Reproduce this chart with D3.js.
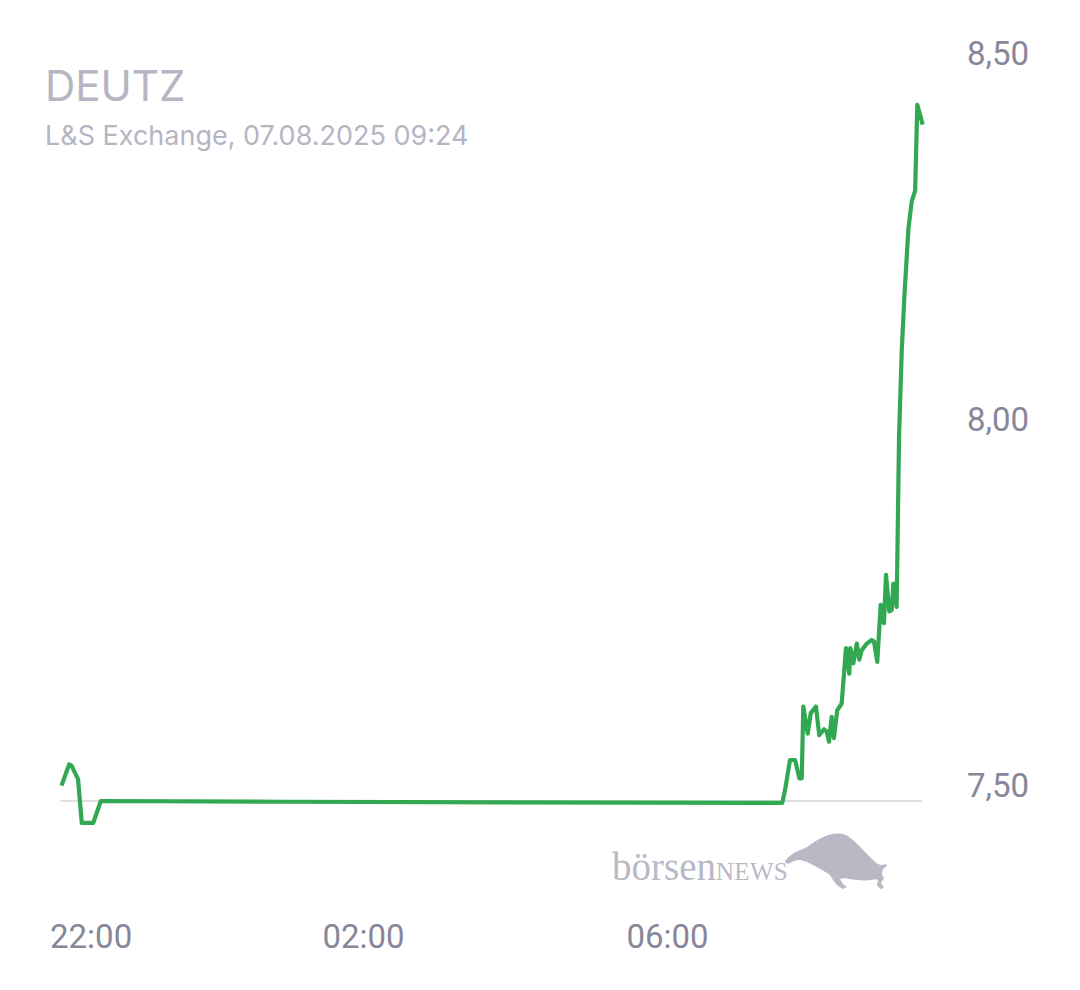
<!DOCTYPE html>
<html>
<head>
<meta charset="utf-8">
<script src="https://cdn.jsdelivr.net/npm/d3@7/dist/d3.min.js"></script>
<style>
  html, body { margin: 0; padding: 0; background: #ffffff; }
  svg { display: block; }
</style>
</head>
<body>
<svg id="chart" width="1080" height="990"></svg>
<script>
// ---------- data ----------
const title = "DEUTZ";
const subtitle = "L&S Exchange, 07.08.2025 09:24";

// time stamps (06.08.2025 evening, then 07.08.2025 morning)
const times = [
  "2025-08-06T22:02:00","2025-08-06T22:08:00","2025-08-06T22:10:00","2025-08-06T22:15:00",
  "2025-08-06T22:18:00","2025-08-06T22:27:00","2025-08-06T22:33:00","2025-08-07T01:00:00",
  "2025-08-07T04:00:00","2025-08-07T07:31:00","2025-08-07T07:33:12","2025-08-07T07:37:06",
  "2025-08-07T07:41:06","2025-08-07T07:44:30","2025-08-07T07:46:24","2025-08-07T07:47:36",
  "2025-08-07T07:51:06","2025-08-07T07:53:30","2025-08-07T07:57:36","2025-08-07T08:00:12",
  "2025-08-07T08:04:00","2025-08-07T08:06:06","2025-08-07T08:07:54","2025-08-07T08:10:00",
  "2025-08-07T08:11:48","2025-08-07T08:14:24","2025-08-07T08:17:54","2025-08-07T08:21:18",
  "2025-08-07T08:23:54","2025-08-07T08:24:42","2025-08-07T08:27:06","2025-08-07T08:29:48",
  "2025-08-07T08:31:48","2025-08-07T08:33:42","2025-08-07T08:37:42","2025-08-07T08:41:36",
  "2025-08-07T08:43:24","2025-08-07T08:46:00","2025-08-07T08:48:42","2025-08-07T08:51:18",
  "2025-08-07T08:52:54","2025-08-07T08:55:30","2025-08-07T08:57:24","2025-08-07T08:58:42",
  "2025-08-07T09:01:18","2025-08-07T09:03:12","2025-08-07T09:05:18","2025-08-07T09:07:30",
  "2025-08-07T09:10:36","2025-08-07T09:13:12","2025-08-07T09:15:54","2025-08-07T09:17:36",
  "2025-08-07T09:21:54"
];
const prices = [
  7.521, 7.550, 7.548, 7.530,
  7.470, 7.470, 7.500, 7.499,
  7.498, 7.4975, 7.515, 7.556,
  7.556, 7.531, 7.531, 7.629,
  7.592, 7.620, 7.629, 7.590,
  7.598, 7.595, 7.581, 7.615,
  7.586, 7.624, 7.633, 7.709,
  7.674, 7.709, 7.688, 7.715,
  7.693, 7.706, 7.715, 7.720,
  7.718, 7.690, 7.768, 7.743,
  7.809, 7.759, 7.761, 7.797,
  7.765, 7.998, 8.114, 8.192,
  8.282, 8.319, 8.334, 8.451,
  8.424
];
const refPrice = 7.50;
const yTicks = [7.50, 8.00, 8.50];
const yTickLabels = ["7,50", "8,00", "8,50"];
const xTicks = ["2025-08-06T22:00:00", "2025-08-07T02:00:00", "2025-08-07T06:00:00"];
const xTickLabels = ["22:00", "02:00", "06:00"];

// ---------- layout ----------
const svg = d3.select("#chart");
const parse = d3.isoParse;
const data = times.map((t, i) => ({ t: parse(t), p: prices[i] }));

const x = d3.scaleTime()
  .domain([parse("2025-08-06T22:00:00"), parse("2025-08-07T06:00:00")])
  .range([59, 667]);
const y = d3.scaleLinear()
  .domain([7.50, 8.50])
  .range([801, 69]);

const grayText = "#b6b5c3";
const axisText = "#878799";

// title
svg.append("text")
  .attr("x", 45).attr("y", 101)
  .attr("font-family", "Inter, 'Noto Sans', sans-serif")
  .attr("font-size", 42)
  .attr("fill", grayText)
  .text(title);
svg.append("text")
  .attr("x", 45).attr("y", 145)
  .attr("font-family", "Inter, 'Noto Sans', sans-serif")
  .attr("font-size", 27)
  .attr("fill", grayText)
  .text(subtitle);

// reference line
svg.append("line")
  .attr("x1", x(data[0].t) - 1).attr("x2", 922)
  .attr("y1", y(refPrice)).attr("y2", y(refPrice))
  .attr("stroke", "#dedede").attr("stroke-width", 2);

// logo
const logo = svg.append("g").attr("class", "logo");
const logoText = logo.append("text")
  .attr("x", 612).attr("y", 880)
  .attr("font-family", "'Liberation Serif', 'DejaVu Serif', serif")
  .attr("fill", "#b9b9c6");
logoText.append("tspan").attr("font-size", 39).text("börsen");
logoText.append("tspan").attr("font-size", 25).attr("letter-spacing", 0.3).text("NEWS");
logo.append("path")
  .attr("fill", "#b9b9c6")
  .attr("d", "M785,861 C788,857 793,853 798,851 C802,849 806,848 810,845 C816,840 824,836 832,834 C838,833 843,833 848,836 C856,842 864,851 872,859 C876,863 879,865 882,865 L886,864 L887,866 L884,868 C882,871 881,874 884,878 L881,883 L884,888 L880,889 L877,885 L878,880 C876,879 874,879 872,880 C865,881 856,880 849,879 C846,878 843,878 840,879 L843,884 L847,887 L843,889 L838,886 C835,883 832,879 830,875 C826,872 820,869 815,866 C810,863 805,861 800,860 C796,860 793,861 790,863 C788,864 786,864 785,861 Z");

// price line
const line = d3.line()
  .x(d => x(d.t))
  .y(d => y(d.p))
  .curve(d3.curveLinear);
svg.append("path")
  .datum(data)
  .attr("fill", "none")
  .attr("stroke", "#33a852")
  .attr("stroke-width", 4.2)
  .attr("stroke-linejoin", "round")
  .attr("stroke-linecap", "butt")
  .attr("d", line);

// y axis (right)
const yAxis = d3.axisRight(y)
  .tickValues(yTicks)
  .tickFormat((d, i) => yTickLabels[i])
  .tickSize(0)
  .tickPadding(0);
const gy = svg.append("g")
  .attr("transform", "translate(967,0)")
  .call(yAxis);
gy.select(".domain").remove();
gy.selectAll("text")
  .attr("font-family", "Roboto, sans-serif")
  .attr("font-size", 33)
  .attr("fill", axisText)
  .attr("dy", "-0.13em")
  .attr("dominant-baseline", "auto")
  .attr("text-anchor", "start")
  .attr("x", 0);

// x axis
const xAxis = d3.axisBottom(x)
  .tickValues(xTicks.map(parse))
  .tickFormat((d, i) => xTickLabels[i])
  .tickSize(0)
  .tickPadding(0);
const gx = svg.append("g")
  .attr("transform", "translate(0,948)")
  .call(xAxis);
gx.select(".domain").remove();
gx.selectAll("text")
  .attr("font-family", "Roboto, sans-serif")
  .attr("font-size", 33)
  .attr("fill", axisText)
  .attr("dy", 0)
  .attr("y", 0);
// keep labels inside the plot's left edge
gx.selectAll(".tick").each(function() {
  const tick = d3.select(this);
  const txt = tick.select("text");
  const w = txt.node().getComputedTextLength();
  const tx = +tick.attr("transform").match(/translate\(([-\d.]+)/)[1];
  if (tx - w / 2 < 50) {
    txt.attr("text-anchor", "start").attr("x", 50 - tx);
  }
});
</script>
</body>
</html>
